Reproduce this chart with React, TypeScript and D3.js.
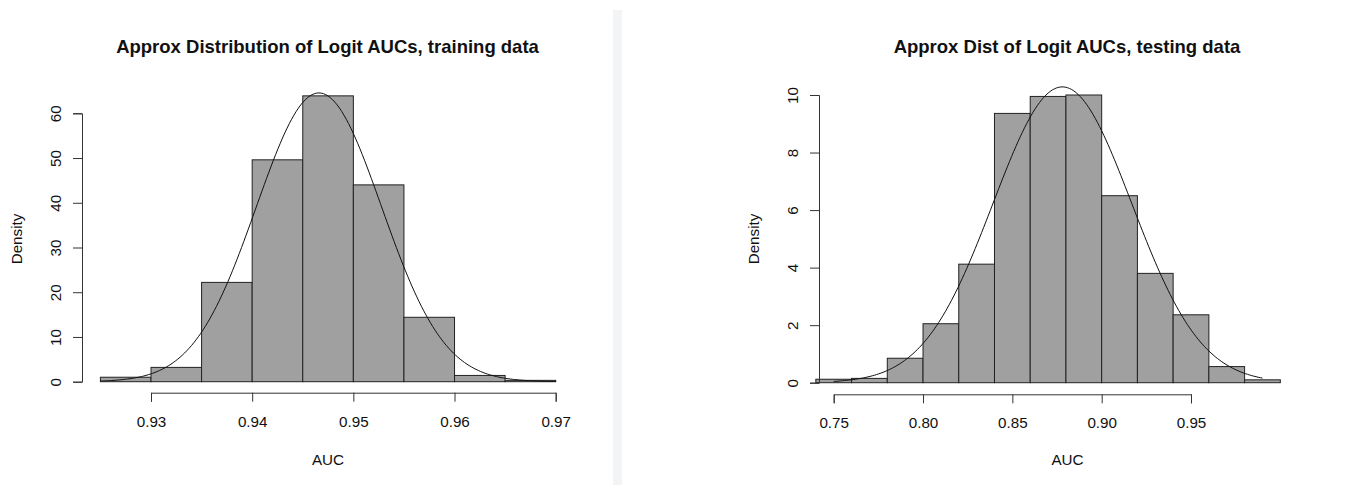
import React, { useEffect, useRef } from 'react';
import * as d3 from 'd3';

// histogram bin edges and densities
const trainBreaks = [0.925, 0.93, 0.935, 0.94, 0.945, 0.95, 0.955, 0.96, 0.965, 0.97];
const trainDensity = [1.0, 3.2, 22.2, 49.6, 63.9, 44.0, 14.4, 1.4, 0.3];
const trainMean = 0.9466;
const trainSd = 0.00618;
const trainXTicks = [0.93, 0.94, 0.95, 0.96, 0.97];
const trainYTicks = [0, 10, 20, 30, 40, 50, 60];

const testBreaks = [0.74, 0.76, 0.78, 0.8, 0.82, 0.84, 0.86, 0.88, 0.9, 0.92, 0.94, 0.96, 0.98, 1.0];
const testDensity = [0.12, 0.15, 0.85, 2.05, 4.12, 9.36, 9.95, 10.0, 6.5, 3.8, 2.36, 0.56, 0.1];
const testMean = 0.878;
const testSd = 0.0388;
const testXTicks = [0.75, 0.8, 0.85, 0.9, 0.95];
const testYTicks = [0, 2, 4, 6, 8, 10];

const FONT = '"Liberation Sans", Arial, Helvetica, sans-serif';

const dnorm = (x, m, s) => Math.exp(-0.5 * ((x - m) / s) ** 2) / (s * Math.sqrt(2 * Math.PI));

const drawHist = (svg, cfg) => {
  const { breaks, density, mean, sd, xTicks, yTicks, xDomain, xRange, yDomain, yRange,
    yAxisX, xAxisY, curveFrom, curveTo, title, titleX, labelX, fmt } = cfg;

  const x = d3.scaleLinear().domain(xDomain).range(xRange);
  const y = d3.scaleLinear().domain(yDomain).range(yRange);
  const g = svg.append('g');

  // bars
  g.selectAll('rect.bar')
    .data(density)
    .enter()
    .append('rect')
    .attr('class', 'bar')
    .attr('x', (d, i) => x(breaks[i]))
    .attr('y', d => y(d))
    .attr('width', (d, i) => x(breaks[i + 1]) - x(breaks[i]))
    .attr('height', d => y(0) - y(d))
    .attr('fill', '#a0a0a0')
    .attr('stroke', '#222')
    .attr('stroke-width', 1);

  // normal curve
  const pts = d3.range(0, 201).map(i => {
    const v = curveFrom + (curveTo - curveFrom) * i / 200;
    return [v, dnorm(v, mean, sd)];
  });
  g.append('path')
    .datum(pts)
    .attr('fill', 'none')
    .attr('stroke', '#111')
    .attr('stroke-width', 1)
    .attr('d', d3.line().x(d => x(d[0])).y(d => y(d[1])));

  // x axis
  const xa = g.append('g')
    .attr('transform', `translate(0,${xAxisY})`)
    .call(d3.axisBottom(x).tickValues(xTicks).tickFormat(fmt).tickSizeOuter(0).tickSize(9));
  xa.select('.domain').attr('stroke', '#333');
  xa.selectAll('.tick line').attr('stroke', '#333');
  xa.selectAll('.tick text')
    .attr('y', 34)
    .attr('dy', null)
    .attr('fill', '#111')
    .style('font-family', FONT)
    .style('font-size', '15.2px');

  // y axis
  const ya = g.append('g')
    .attr('transform', `translate(${yAxisX},0)`)
    .call(d3.axisLeft(y).tickValues(yTicks).tickSizeOuter(0).tickSize(9));
  ya.select('.domain').attr('stroke', '#333');
  ya.selectAll('.tick line').attr('stroke', '#333');
  ya.selectAll('.tick text')
    .attr('x', null)
    .attr('dy', null)
    .attr('transform', 'translate(-21,0) rotate(-90)')
    .attr('text-anchor', 'middle')
    .attr('fill', '#111')
    .style('font-family', FONT)
    .style('font-size', '15.2px');

  // title and labels
  svg.append('text')
    .attr('x', titleX)
    .attr('y', 53)
    .attr('text-anchor', 'middle')
    .style('font-family', FONT)
    .style('font-size', '18.5px')
    .style('font-weight', 'bold')
    .attr('fill', '#111')
    .text(title);

  svg.append('text')
    .attr('x', labelX)
    .attr('y', 465)
    .attr('text-anchor', 'middle')
    .style('font-family', FONT)
    .style('font-size', '15.2px')
    .attr('fill', '#111')
    .text('AUC');

  svg.append('text')
    .attr('transform', `translate(${yAxisX - 60},239) rotate(-90)`)
    .attr('text-anchor', 'middle')
    .style('font-family', FONT)
    .style('font-size', '15.2px')
    .attr('fill', '#111')
    .text('Density');
};

const App = () => {
  const ref = useRef(null);

  useEffect(() => {
    const svg = d3.select(ref.current);
    svg.selectAll('*').remove();

    svg.append('rect').attr('width', 1354).attr('height', 485).attr('fill', '#fff');
    // panel divider
    svg.append('rect').attr('x', 613).attr('y', 10).attr('width', 9).attr('height', 475).attr('fill', '#f3f4f6');

    drawHist(svg, {
      breaks: trainBreaks, density: trainDensity, mean: trainMean, sd: trainSd,
      xTicks: trainXTicks, yTicks: trainYTicks,
      xDomain: [0.93, 0.97], xRange: [151, 555.7],
      yDomain: [0, 60], yRange: [381.7, 113.3],
      yAxisX: 82, xAxisY: 392.7,
      curveFrom: 0.925, curveTo: 0.97,
      title: 'Approx Distribution of Logit AUCs, training data', titleX: 327.5, labelX: 328,
      fmt: d3.format('.2f'),
    });

    drawHist(svg, {
      breaks: testBreaks, density: testDensity, mean: testMean, sd: testSd,
      xTicks: testXTicks, yTicks: testYTicks,
      xDomain: [0.75, 0.95], xRange: [833.7, 1191],
      yDomain: [0, 10], yRange: [382.7, 95],
      yAxisX: 819, xAxisY: 394.3,
      curveFrom: 0.75, curveTo: 0.99,
      title: 'Approx Dist of Logit AUCs, testing data', titleX: 1067, labelX: 1067.5,
      fmt: d3.format('.2f'),
    });
  }, []);

  return (
    <svg ref={ref} width={1354} height={485}
      style={{ position: 'absolute', left: 0, top: 0, display: 'block' }} />
  );
};

export default App;
